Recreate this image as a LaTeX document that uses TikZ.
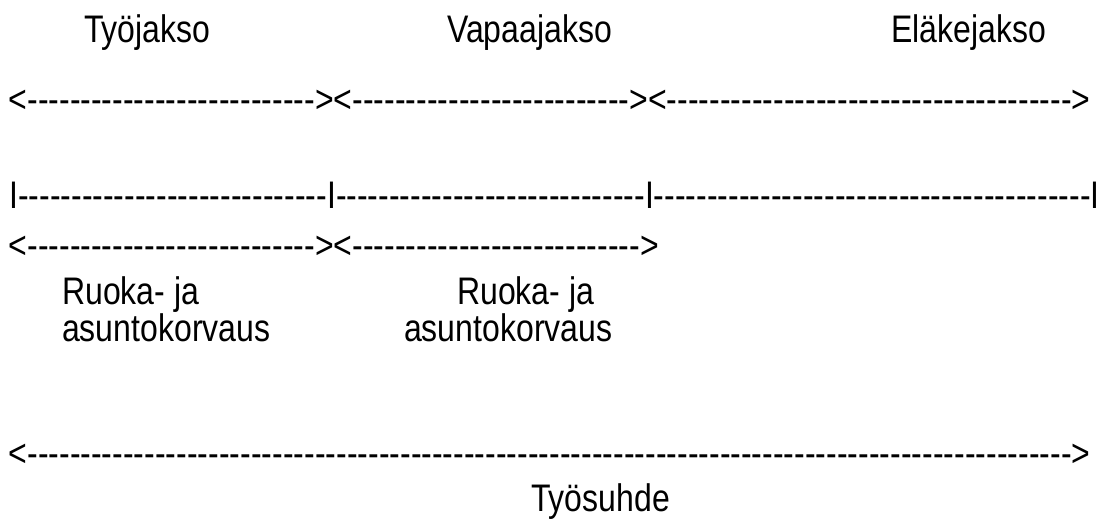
\documentclass[tikz,border=0pt]{standalone}
\usepackage{fontspec}
\setmainfont{Liberation Sans}[Ligatures=TeXOff]
\usepackage{graphicx}
\usepackage{tikz}

% a run of hyphens, as typed in the original
\newcommand{\dashes}[1]{\foreach\n in {1,...,#1}{-}}
% the original text is a little stretched upwards
\newcommand{\tall}[1]{\scalebox{1}[1.2]{#1}}

\begin{document}
\begin{tikzpicture}[x=1pt, y=-1pt, every node/.style={inner sep=0pt, anchor=base west, font=\fontsize{32pt}{38pt}\selectfont}]
    \useasboundingbox (0,0) rectangle (1096,519);
    \node (tyo) at (84,43) {\tall{Työjakso}};
    \node (vapaa) at (447,43) {\tall{Vapaajakso}};
    \node (elake) at (891,43) {\tall{Eläkejakso}};
    \node (jaksot) at (8.5,113) {\tall{<\dashes{27}><\dashes{26}><\dashes{38}>}};
    \node (rajat) at (9,208) {\tall{I\dashes{29}I\dashes{29}I\dashes{41}I}};
    \node (korvaus) at (8.5,258) {\tall{<\dashes{27}><\dashes{27}>}};
    \node (ruoka1) at (62,304) {\tall{Ruoka- ja}};
    \node (asunto1) at (62,341) {\tall{asuntokorvaus}};
    \node (ruoka2) at (457,304) {\tall{Ruoka- ja}};
    \node (asunto2) at (404,341) {\tall{asuntokorvaus}};
    \node (suhde) at (8.5,466) {\tall{<\dashes{98}>}};
    \node (tyosuhde) at (531,511) {\tall{Työsuhde}};
\end{tikzpicture}
\end{document}
